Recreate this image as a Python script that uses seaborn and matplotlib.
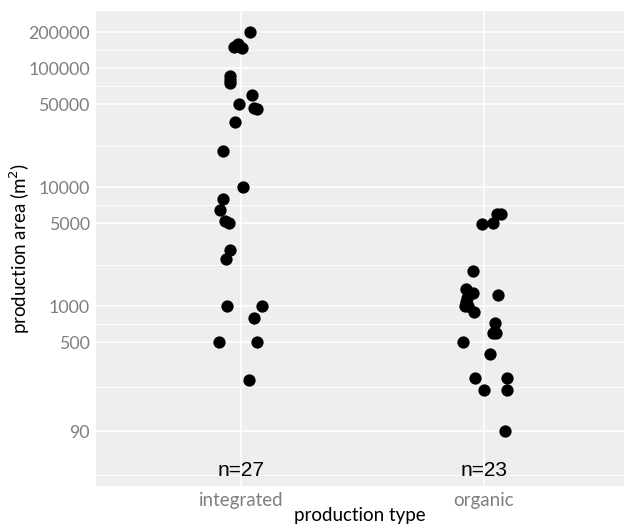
import matplotlib

matplotlib.use("Agg")

import matplotlib.pyplot as plt
import numpy as np
import pandas as pd
import seaborn as sns
from matplotlib.ticker import FixedLocator, NullFormatter

# values (log scale)
CATEGORIES = ["integrated", "organic"]

INTEGRATED_AREA = [
    200000, 150000, 160000, 148000, 153000, 86000, 80000, 75000, 60000,
    50000, 46000, 45000, 35000, 20000, 10000, 8000, 6400, 5250, 5000,
    3000, 2500, 1000, 1000, 800, 500, 500, 240,
]
# horizontal jitter of each point, in category units
INTEGRATED_JITTER = [
    0.037, -0.029, -0.012, 0.005, -0.021, -0.045, -0.047, -0.045, 0.045,
    -0.008, 0.053, 0.066, -0.025, -0.074, 0.008, -0.074, -0.088, -0.066,
    -0.048, -0.045, -0.063, -0.058, 0.086, 0.053, -0.091, 0.066, 0.033,
]

ORGANIC_AREA = [
    6000, 6000, 5000, 4900, 2000, 1400, 1300, 1240, 1180, 1100, 1000,
    1000, 890, 720, 600, 600, 500, 400, 250, 250, 200, 200, 90,
]
ORGANIC_JITTER = [
    0.053, 0.070, 0.036, -0.009, -0.045, -0.074, -0.044, 0.058, -0.069,
    -0.074, -0.078, -0.066, -0.040, 0.045, 0.038, 0.050, -0.088, 0.025,
    -0.036, 0.096, 0.001, 0.093, 0.086,
]

Y_BREAKS = [90, 500, 1000, 5000, 10000, 50000, 100000, 200000]
N_LABEL_Y = 42

GREY_TEXT = "#7f7f7f"


def build_frame() -> pd.DataFrame:
    parts = []
    for code, (name, area, jit) in enumerate(
        zip(CATEGORIES, [INTEGRATED_AREA, ORGANIC_AREA], [INTEGRATED_JITTER, ORGANIC_JITTER])
    ):
        parts.append(
            pd.DataFrame(
                {
                    "production_type": name,
                    "area": area,
                    "x_pos": code + np.array(jit),
                }
            )
        )
    return pd.concat(parts, ignore_index=True)


def main() -> None:
    sns.set_style("darkgrid")
    plt.rcParams["font.family"] = ["Lato", "DejaVu Sans"]

    df = build_frame()

    fig = plt.figure(figsize=(6.25, 5.25), dpi=100)
    ax = fig.add_axes([96 / 625, 1 - 486 / 525, 528 / 625, 475.5 / 525])
    ax.set_facecolor("#eeeeee")

    sns.scatterplot(data=df, x="x_pos", y="area", color="black", s=78,
                    linewidth=0, ax=ax, zorder=3)

    ax.set_yscale("log")
    ax.set_ylim(31.1, 304800)
    ax.set_xlim(-0.597, 1.576)

    ax.set_xticks(range(len(CATEGORIES)))
    ax.set_xticklabels(CATEGORIES)
    ax.yaxis.set_major_locator(FixedLocator(Y_BREAKS))
    ax.set_yticklabels([str(b) for b in Y_BREAKS])

    # minor gridlines halfway between breaks (log space), plus one below
    mids = list(np.sqrt(np.array(Y_BREAKS[:-1]) * np.array(Y_BREAKS[1:])))
    low = Y_BREAKS[0] * np.sqrt(Y_BREAKS[0] / Y_BREAKS[1])
    ax.yaxis.set_minor_locator(FixedLocator([low] + mids))
    ax.yaxis.set_minor_formatter(NullFormatter())

    ax.grid(which="major", color="white", linewidth=1.1)
    ax.grid(which="minor", axis="y", color="white", linewidth=0.55)
    ax.grid(which="minor", axis="x", visible=False)
    for spine in ax.spines.values():
        spine.set_visible(False)

    ax.tick_params(axis="both", which="major", length=3, width=0.8,
                   color="#666666", labelcolor=GREY_TEXT, labelsize=13.5, pad=1.5)
    ax.tick_params(axis="y", which="major", labelsize=12.8)
    ax.tick_params(axis="y", which="minor", length=0)

    ax.set_xlabel("production type", fontsize=13.5, color="black")
    ax.set_ylabel("production area (m$^2$)", fontsize=13.5, color="black")
    ax.xaxis.set_label_coords(0.5, -0.045)
    ax.yaxis.set_label_coords(-0.122, 0.5)

    for code, area in enumerate([INTEGRATED_AREA, ORGANIC_AREA]):
        ax.text(code, N_LABEL_Y, f"n={len(area)}", ha="center", va="center",
                fontsize=15, color="black", family=["Liberation Sans", "DejaVu Sans"])

    fig.savefig("out.png", dpi=100)
    plt.close(fig)


if __name__ == "__main__":
    main()
